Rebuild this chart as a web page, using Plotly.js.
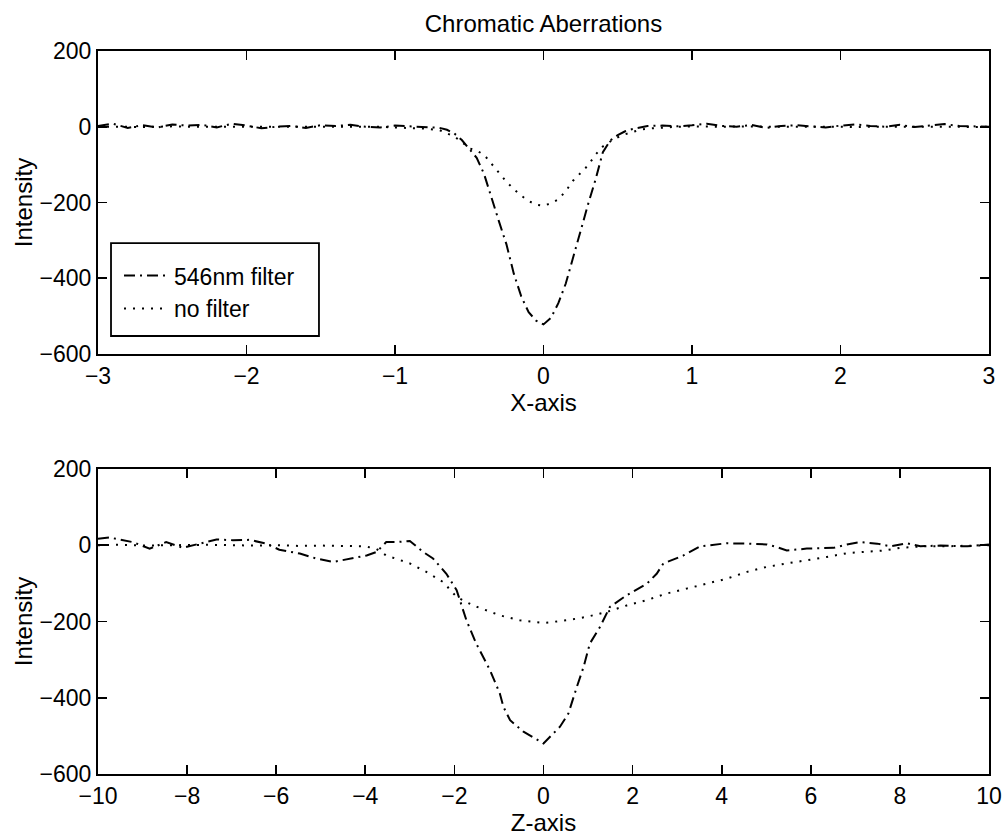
<!DOCTYPE html>
<html>
<head>
<meta charset="utf-8">
<script src="https://cdn.plot.ly/plotly-3.0.1.min.js"></script>
<style>html,body{margin:0;padding:0;background:#fff;}#chart{width:1005px;height:838px;}</style>
</head>
<body>
<div id="chart"></div>
<script>
// ---- Top panel (X-axis) ----
const xTop = [-3.0,-2.9,-2.8,-2.7,-2.6,-2.5,-2.4,-2.3,-2.2,-2.1,-2.0,-1.9,-1.8,-1.7,-1.6,-1.5,-1.4,-1.3,-1.2,-1.1,-1.0,-0.9,-0.8,
  -0.7,-0.65,-0.6,-0.55,-0.5,-0.45,-0.4,-0.35,-0.3,-0.25,-0.2,-0.15,-0.1,-0.05,0,0.05,0.1,0.15,0.2,0.25,0.3,0.35,0.4,0.45,0.5,0.55,0.6,0.65,0.7,
  0.8,0.9,1.0,1.1,1.2,1.3,1.4,1.5,1.6,1.7,1.8,1.9,2.0,2.1,2.2,2.3,2.4,2.5,2.6,2.7,2.8,2.9,3.0];
const filterX = [2,8,-3,4,-2,6,3,5,-2,8,3,-4,0,2,-3,4,2,5,0,-2,3,1,-2,
  -3,-8,-18,-35,-60,-82,-125,-190,-250,-310,-388,-448,-490,-512,-522,-505,-466,-414,-348,-275,-205,-140,-67,-36,-22,-12,-6,-2,2,
  3,1,4,8,2,0,5,-3,2,4,1,-2,3,6,2,0,5,-1,3,7,2,1,0];
const noFilterX = [0,1,0,-1,0,1,0,0,-1,0,1,0,0,-1,0,0,1,0,-1,0,-2,-3,-5,
  -9,-17,-26,-40,-57,-63,-74,-98,-122,-145,-165,-182,-196,-206,-209,-202,-192,-170,-142,-121,-102,-74,-52,-39,-28,-20,-13,-8,-5,
  -2,0,1,0,0,1,0,-1,0,0,1,0,0,-1,0,1,0,0,1,0,0,-1,0];

// ---- Bottom panel (Z-axis) ----
const zFilter = [-10,-9.74,-9.22,-8.84,-8.47,-8.09,-7.72,-7.34,-6.97,-6.6,-6.22,-5.93,-5.47,-5.1,-4.72,-4.35,-3.97,-3.75,-3.53,-3.3,-3.0,-2.7,-2.48,-2.18,-1.95,-1.73,-1.51,-1.2,-0.98,-0.9,-0.75,-0.45,0,0.37,0.56,0.75,0.9,1.04,1.27,1.49,1.87,2.32,2.54,2.69,3.14,3.52,4.11,4.56,5.01,5.24,5.46,5.91,6.51,6.81,7.11,7.49,7.79,8.16,8.46,8.91,9.51,10];
const filterZ = [17,20,8,-9,8,-7,4,15,13,14,4,-12,-22,-35,-44,-35,-27,-18,8,8,11,-18,-35,-75,-118,-197,-258,-328,-389,-424,-459,-489,-520,-476,-441,-371,-319,-258,-214,-162,-131,-101,-75,-48,-27,-3,5,4,2,-5,-14,-9,-7,2,8,4,-3,5,-3,-1,-3,2];
const zNoFilter = [-10,-9.5,-9,-8.5,-8,-7.5,-7,-6.5,-6,-5.5,-5,-4.5,-4,-3.75,-3.53,-3.0,-2.63,-2.25,-1.95,-1.58,-0.98,-0.53,0,0.52,0.97,1.42,1.87,2.32,2.76,3.21,3.67,4.11,4.57,5.01,5.46,5.91,6.36,6.81,7.26,7.64,8.01,8.5,9,9.5,10];
const noFilterZ = [0,1,-1,0,0,1,0,-1,0,-2,-1,-2,-3,-10,-27,-48,-70,-97,-136,-158,-184,-197,-204,-197,-188,-175,-158,-144,-127,-114,-101,-88,-70,-57,-48,-40,-31,-21,-18,-14,-7,-3,-3,-2,0];

const seriesNames = ['546nm filter', 'no filter'];
const xTicks = [-3,-2,-1,0,1,2,3];
const zTicks = [-10,-8,-6,-4,-2,0,2,4,6,8,10];
const yTicks = [-600,-400,-200,0,200];

const dashDot = '11px,5px,2px,5px';
const dotted = '2px,7px';
const FONT = 'Liberation Sans, Arial, Helvetica, sans-serif';
const LW = 2;

const traces = [
  {x: xTop, y: filterX, name: seriesNames[0], mode: 'lines', xaxis: 'x', yaxis: 'y',
   line: {color: '#000', width: LW, dash: dashDot}},
  {x: xTop, y: noFilterX, name: seriesNames[1], mode: 'lines', xaxis: 'x', yaxis: 'y',
   line: {color: '#000', width: LW, dash: dotted}},
  {x: zFilter, y: filterZ, name: seriesNames[0], mode: 'lines', xaxis: 'x2', yaxis: 'y2', showlegend: false,
   line: {color: '#000', width: LW, dash: dashDot}},
  {x: zNoFilter, y: noFilterZ, name: seriesNames[1], mode: 'lines', xaxis: 'x2', yaxis: 'y2', showlegend: false,
   line: {color: '#000', width: LW, dash: dotted}}
];

const axisCommon = {
  showline: true, linecolor: '#000', linewidth: 2, mirror: 'ticks',
  ticks: 'inside', ticklen: 9, tickwidth: 1.6, tickcolor: '#000',
  showgrid: false, zeroline: false,
  tickfont: {family: FONT, size: 23, color: '#000'}
};
const titleFont = {family: FONT, size: 24, color: '#000'};

const layout = {
  width: 1005, height: 838,
  margin: {l: 98, r: 16, t: 51, b: 64, pad: 0},
  paper_bgcolor: '#fff', plot_bgcolor: '#fff',
  font: {family: FONT, size: 23, color: '#000'},
  showlegend: true,
  title: {text: 'Chromatic Aberrations', font: titleFont,
          x: 0.5, xref: 'paper', xanchor: 'center', y: 1 - 24/838, yanchor: 'middle'},
  xaxis: Object.assign({}, axisCommon, {domain: [0, 1], range: [-3, 3], tickvals: xTicks, anchor: 'y',
          title: {text: 'X-axis', font: titleFont, standoff: 6}}),
  yaxis: Object.assign({}, axisCommon, {domain: [0.581, 1], range: [-600, 200], tickvals: yTicks, anchor: 'x',
          title: {text: 'Intensity', font: titleFont, standoff: 0}}),
  xaxis2: Object.assign({}, axisCommon, {domain: [0, 1], range: [-10, 10], tickvals: zTicks, anchor: 'y2',
          title: {text: 'Z-axis', font: titleFont, standoff: 6}}),
  yaxis2: Object.assign({}, axisCommon, {domain: [0, 0.422], range: [-600, 200], tickvals: yTicks, anchor: 'x2',
          title: {text: 'Intensity', font: titleFont, standoff: 0}}),
  shapes: [
    {type: 'rect', xref: 'paper', yref: 'paper', x0: 0.0146, x1: 0.248, y0: 0.6058, y1: 0.7344,
     fillcolor: '#fff', line: {color: '#000', width: 1.8}, layer: 'above'}
  ],
  legend: {x: 0.0236, y: 0.719, xanchor: 'left', yanchor: 'top', bgcolor: 'rgba(0,0,0,0)',
           borderwidth: 0, itemwidth: 45, font: {family: FONT, size: 23, color: '#000'},
           tracegroupgap: 0}
};

Plotly.newPlot('chart', traces, layout, {staticPlot: true, displayModeBar: false});
</script>
</body>
</html>
